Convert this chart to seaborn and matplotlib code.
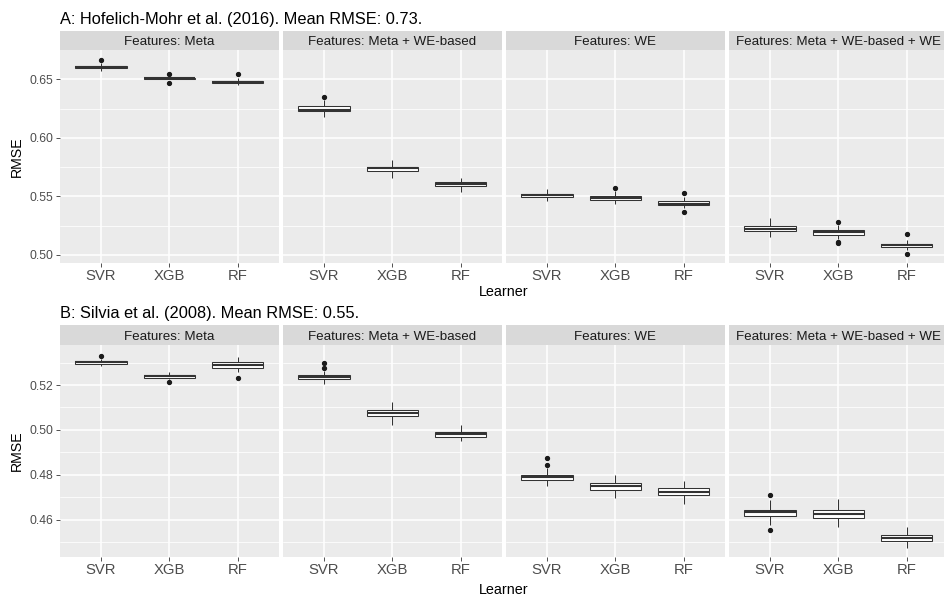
import matplotlib
matplotlib.use("Agg")
import matplotlib.pyplot as plt
from matplotlib.patches import Rectangle
import pandas as pd
import seaborn as sns

learners = ["SVR", "XGB", "RF"]
feature_sets = ["Meta", "Meta + WE-based", "WE", "Meta + WE-based + WE"]

title_a = "A: Hofelich-Mohr et al. (2016). Mean RMSE: 0.73."
title_b = "B: Silvia et al. (2008). Mean RMSE: 0.55."

# Box summaries, ordered feature set by feature set, learners SVR / XGB / RF
a_whisker_low = [0.6568, 0.6499, 0.6450, 0.6176, 0.5656, 0.5536,
                 0.5460, 0.5433, 0.5398, 0.5152, 0.5138, 0.5038]
a_q1 = [0.6596, 0.6505, 0.6472, 0.6233, 0.5713, 0.5585,
        0.5497, 0.5466, 0.5422, 0.5199, 0.5173, 0.5070]
a_median = [0.6605, 0.6510, 0.6481, 0.6240, 0.5740, 0.5608,
            0.5509, 0.5484, 0.5438, 0.5220, 0.5192, 0.5083]
a_q3 = [0.6616, 0.6515, 0.6489, 0.6273, 0.5754, 0.5625,
        0.5523, 0.5503, 0.5456, 0.5248, 0.5213, 0.5096]
a_whisker_high = [0.6642, 0.6528, 0.6510, 0.6325, 0.5810, 0.5656,
                  0.5560, 0.5548, 0.5495, 0.5312, 0.5252, 0.5129]
a_outliers = [[0.6663], [0.6466, 0.6545], [0.6543],
              [0.6350], [], [],
              [], [0.5570], [0.5364, 0.5524],
              [], [0.5101, 0.5106, 0.5276], [0.5006, 0.5177]]

b_whisker_low = [0.5283, 0.5228, 0.5259, 0.5204, 0.5021, 0.4950,
                 0.4750, 0.4698, 0.4670, 0.4577, 0.4568, 0.4476]
b_q1 = [0.5295, 0.5233, 0.5277, 0.5225, 0.5060, 0.4970,
        0.4777, 0.4734, 0.4712, 0.4615, 0.4608, 0.4504]
b_median = [0.5302, 0.5238, 0.5290, 0.5235, 0.5074, 0.4981,
            0.4792, 0.4749, 0.4723, 0.4633, 0.4625, 0.4519]
b_q3 = [0.5307, 0.5244, 0.5301, 0.5244, 0.5088, 0.4992,
        0.4801, 0.4763, 0.4741, 0.4646, 0.4644, 0.4533]
b_whisker_high = [0.5316, 0.5256, 0.5325, 0.5262, 0.5123, 0.5024,
                  0.4830, 0.4801, 0.4774, 0.4690, 0.4692, 0.4569]
b_outliers = [[0.5328], [0.5213], [0.5229],
              [0.5277, 0.5298], [], [],
              [0.4844, 0.4877], [], [],
              [0.4556, 0.4711], [], []]

a_yticks = [0.50, 0.55, 0.60, 0.65]
a_yminor = [0.525, 0.575, 0.625]
b_yticks = [0.46, 0.48, 0.50, 0.52]
b_yminor = [0.45, 0.47, 0.49, 0.51, 0.53]


def box_values(lo, q1, med, q3, hi, outs):
    """Observations whose quartiles, whisker ends and outliers are the given ones."""
    below = sorted(v for v in outs if v < q1)
    above = sorted(v for v in outs if v > q3)
    m = max(len(below), len(above)) + 1
    return (below + [lo] * (m - len(below)) + [q1] * m + [med]
            + [q3] * m + [hi] * (m - len(above)) + above)


def long_frame(lo, q1, med, q3, hi, outs):
    rows = []
    k = 0
    for fs in feature_sets:
        for lr in learners:
            for v in box_values(lo[k], q1[k], med[k], q3[k], hi[k], outs[k]):
                rows.append({"features": fs, "learner": lr, "rmse": v})
            k += 1
    return pd.DataFrame(rows)


frame_a = long_frame(a_whisker_low, a_q1, a_median, a_q3, a_whisker_high, a_outliers)
frame_b = long_frame(b_whisker_low, b_q1, b_median, b_q3, b_whisker_high, b_outliers)

sns.set_theme(style="darkgrid")
plt.rcParams["font.family"] = ["Liberation Sans", "DejaVu Sans"]

W, H = 944, 597
fig = plt.figure(figsize=(W / 100, H / 100), dpi=100)
fig.patch.set_facecolor("white")

facet_left = [60, 283, 506, 729]
facet_width = 218.7

panels = [
    dict(frame=frame_a, title=title_a, title_y=24.3, top=50.0, bottom=262.7,
         strip=18.5, ylim=(0.4932, 0.6751), ticks=a_yticks, minor=a_yminor,
         xlab_y=296.3),
    dict(frame=frame_b, title=title_b, title_y=317.6, top=345.0, bottom=556.7,
         strip=20.0, ylim=(0.4436, 0.5378), ticks=b_yticks, minor=b_yminor,
         xlab_y=594.5),
]

for p in panels:
    ph = p["bottom"] - p["top"]
    for f, fs in enumerate(feature_sets):
        ax = fig.add_axes([facet_left[f] / W, 1 - p["bottom"] / H,
                           facet_width / W, ph / H])
        sub = p["frame"][p["frame"]["features"] == fs]
        sns.boxplot(data=sub, x="learner", y="rmse", order=learners, ax=ax,
                    color="white", saturation=1, linecolor="#333333",
                    linewidth=0.75, width=0.75, showcaps=False,
                    medianprops=dict(linewidth=1.5, color="#333333"),
                    flierprops=dict(marker="o", markersize=2.8,
                                    markerfacecolor="#1A1A1A",
                                    markeredgecolor="#1A1A1A"))
        ax.set_facecolor("#EBEBEB")
        for s in ax.spines.values():
            s.set_visible(False)
        ax.set_xlim(-0.6, 2.6)
        ax.set_ylim(*p["ylim"])
        ax.set_yticks(p["ticks"])
        ax.set_yticklabels([f"{t:.2f}" for t in p["ticks"]])
        ax.set_yticks(p["minor"], minor=True)
        ax.set_axisbelow(True)
        ax.grid(False)
        ax.xaxis.grid(True, which="major", color="white", linewidth=1.1)
        ax.yaxis.grid(True, which="major", color="white", linewidth=1.1)
        ax.yaxis.grid(True, which="minor", color="white", linewidth=0.55)
        ax.set_xlabel("")
        ax.set_ylabel("")
        ax.tick_params(axis="x", which="major", bottom=True, length=3, width=0.6,
                       color="#333333", labelsize=10.7, labelcolor="#4D4D4D", pad=1.5)
        ax.tick_params(axis="y", which="major", left=True, length=3, width=0.6,
                       color="#333333", labelsize=8.7, labelcolor="#4D4D4D", pad=2)
        ax.tick_params(axis="y", which="minor", left=False, length=0)
        if f > 0:
            ax.tick_params(axis="y", which="both", left=False, labelleft=False)

        sh = p["strip"] / ph
        ax.add_patch(Rectangle((0, 1), 1, sh, transform=ax.transAxes,
                               facecolor="#D9D9D9", edgecolor="none",
                               clip_on=False))
        ax.text(0.5, 1 + sh / 2, f"Features: {fs}", transform=ax.transAxes,
                ha="center", va="center_baseline", fontsize=9.6, color="#1A1A1A")

    fig.text(60 / W, 1 - p["title_y"] / H, p["title"], ha="left",
             va="baseline", fontsize=11.8, color="black")
    fig.text(17 / W, 1 - (p["top"] + p["bottom"]) / 2 / H, "RMSE",
             rotation=90, ha="center", va="center", fontsize=10.2, color="black")
    fig.text(504 / W, 1 - p["xlab_y"] / H, "Learner", ha="center",
             va="baseline", fontsize=10.4, color="black")

fig.savefig("out.png", dpi=100, facecolor="white")
